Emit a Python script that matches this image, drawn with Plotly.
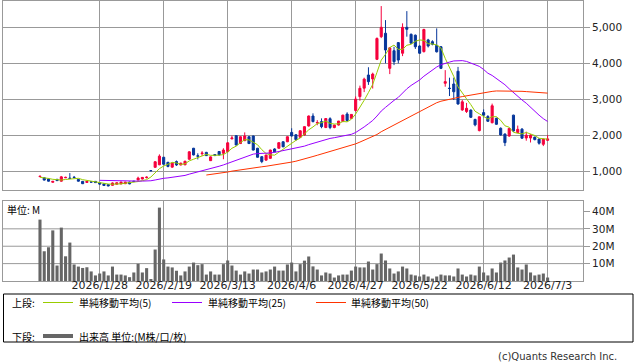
import pandas as pd
import plotly.graph_objects as go

# ---------------- data ----------------
holidays = ["2026-01-12", "2026-02-11", "2026-02-23", "2026-03-20",
            "2026-04-29", "2026-05-04", "2026-05-05", "2026-05-06"]
_days = [d for d in pd.bdate_range("2026-01-07", "2026-07-03")
         if d.strftime("%Y-%m-%d") not in holidays]
dates = [f"{d.year}/{d.month}/{d.day}" for d in _days]

tick_labels = ["2026/1/28", "2026/2/19", "2026/3/13", "2026/4/6",
               "2026/4/27", "2026/5/22", "2026/6/12", "2026/7/3"]

opens = [850, 820, 785, 695, 775, 725, 820, 810, 835, 775,
         720, 690, 705, 720, 680, 650, 630, 610, 640, 650,
         655, 700, 725, 760, 785, 825, 1020, 1110, 1180, 1390,
         1250, 1115, 1270, 1175, 1180, 1335, 1640, 1430, 1490, 1525,
         1295, 1465, 1550, 1500, 1545, 1905, 1990, 1770, 1850, 1960,
         1980, 1640, 1405, 1310, 1360, 1620, 1640, 1820, 1820, 2080,
         2015, 1945, 2010, 2260, 2535, 2345, 2380, 2215, 2460, 2215,
         2285, 2380, 2590, 2470, 2690, 3075, 3310, 3675, 3565, 4110,
         4740, 4835, 3860, 4350, 4575, 4280, 5000, 4805, 4780, 4480,
         4325, 4650, 4600, 4500, 4460, 3445, 3310, 3425, 3780, 2705,
         2660, 2700, 2440, 2130, 2630, 2520, 2350, 2470, 2195, 2035,
         1980, 2560, 2075, 2170, 1925, 1925, 1950, 1895, 1750, 1860]
highs = [880, 830, 795, 730, 790, 870, 850, 950, 870, 785,
         730, 730, 715, 730, 690, 655, 640, 690, 690, 710,
         705, 710, 735, 850, 840, 860, 1025, 1280, 1470, 1400,
         1260, 1250, 1300, 1240, 1290, 1560, 1650, 1500, 1560, 1540,
         1415, 1480, 1560, 1640, 1810, 1990, 2000, 1970, 2080, 1975,
         1990, 1650, 1420, 1460, 1600, 1640, 1800, 1830, 1970, 2195,
         2030, 2140, 2250, 2550, 2610, 2420, 2470, 2480, 2500, 2290,
         2400, 2570, 2640, 2590, 3080, 3380, 3600, 3890, 3740, 4720,
         5590, 5200, 4450, 4460, 4590, 5110, 5450, 4830, 4800, 4500,
         4960, 4680, 4640, 4970, 4480, 3810, 3600, 3600, 3900, 2980,
         2900, 2720, 2460, 2520, 2720, 2560, 2880, 2490, 2220, 2050,
         2200, 2570, 2270, 2200, 2100, 2030, 1960, 1910, 1900, 2010]
lows = [840, 745, 715, 685, 730, 715, 810, 790, 815, 715,
        645, 680, 690, 675, 630, 590, 580, 600, 630, 640,
        645, 640, 700, 740, 775, 800, 1005, 1100, 1170, 1180,
        1110, 1100, 1150, 1165, 1170, 1320, 1440, 1330, 1430, 1425,
        1285, 1420, 1440, 1335, 1530, 1880, 1720, 1760, 1840, 1760,
        1580, 1380, 1225, 1300, 1350, 1530, 1630, 1670, 1810, 1970,
        1850, 1930, 1990, 2240, 2360, 2280, 2195, 2200, 2170, 2195,
        2270, 2370, 2380, 2455, 2660, 2960, 3200, 3400, 3300, 4090,
        4700, 4000, 3700, 3950, 4000, 4200, 4740, 4540, 4400, 4260,
        4300, 4440, 4500, 4300, 3840, 3350, 3090, 2980, 2850, 2680,
        2620, 2480, 2250, 2110, 2500, 2370, 2330, 2290, 1990, 1700,
        1960, 2100, 2060, 1900, 1850, 1800, 1860, 1740, 1700, 1850]
closes = [860, 755, 725, 720, 740, 845, 830, 800, 825, 725,
          655, 720, 700, 685, 645, 605, 595, 675, 680, 700,
          700, 650, 715, 810, 830, 835, 1015, 1265, 1420, 1195,
          1135, 1225, 1175, 1225, 1280, 1540, 1455, 1420, 1505, 1435,
          1400, 1440, 1455, 1590, 1790, 1925, 1730, 1960, 1980, 1770,
          1590, 1390, 1270, 1450, 1590, 1540, 1795, 1680, 1960, 1980,
          1880, 2125, 2240, 2535, 2380, 2355, 2240, 2465, 2215, 2285,
          2395, 2560, 2410, 2580, 3005, 3305, 3560, 3490, 3700, 4690,
          5000, 4370, 4430, 4045, 4090, 5000, 4945, 4560, 4460, 4280,
          4940, 4480, 4530, 4320, 3860, 3490, 3300, 3210, 2870, 2930,
          2750, 2500, 2290, 2515, 2560, 2390, 2820, 2305, 2010, 1795,
          2190, 2120, 2165, 1920, 2000, 2005, 1880, 1780, 1895, 1900]
# closes of the 10 sessions before the visible window (feed the moving averages)
pre_closes = [720, 690, 700, 680, 710, 690, 810, 830, 840, 825]

volume_m = [35.3, 17.1, 19.4, 29.1, 8.9, 30.7, 14.2, 22.1, 9.5, 8.3,
            7.5, 7.9, 5.5, 3.2, 4.3, 5.5, 3.2, 8.3, 3.7, 3.7,
            3.2, 2.2, 4.9, 9.9, 4.9, 7.4, 0.7, 18.1, 42.2, 12.4,
            8.3, 7.8, 5.9, 3.2, 5.5, 8.3, 10.6, 9.1, 9.7, 3.7,
            5.5, 3.7, 3.7, 9.7, 11.8, 8.9, 6.0, 3.7, 5.5, 4.3,
            6.6, 6.6, 4.9, 5.5, 6.6, 8.3, 6.0, 6.0, 9.5, 10.6,
            5.5, 9.7, 11.7, 14.1, 8.4, 6.6, 3.2, 4.9, 4.3, 2.0,
            3.2, 3.7, 3.7, 6.0, 8.3, 7.8, 7.8, 11.2, 6.6, 9.7,
            15.8, 11.8, 7.2, 4.3, 5.5, 8.3, 7.2, 3.7, 3.2, 2.6,
            3.7, 2.6, 1.4, 2.6, 3.7, 3.2, 3.2, 2.6, 7.2, 3.7,
            2.6, 3.7, 3.2, 8.3, 4.9, 3.2, 7.2, 4.9, 10.6, 11.8,
            13.5, 15.2, 7.8, 6.6, 9.5, 4.9, 3.2, 3.7, 4.3, 2.0]

price_ticks = [1000, 2000, 3000, 4000, 5000]
vol_ticks = [10, 20, 30, 40]
vol_tick_text = ["10M", "20M", "30M", "40M"]
vol_grid = [10, 20, 30]

legend_top = ["単純移動平均(5)", "単純移動平均(25)", "単純移動平均(50)"]
legend_bottom = "出来高 単位:(M株/口/枚)"

# ---------------- styles ----------------
UP = "#f5003c"
DOWN = "#06369a"
MA_COLORS = ["#99cc00", "#9900ff", "#ff3300"]
VOL_COLOR = "#666666"
GRID = "#999999"
FONT = "DejaVu Sans"
JP = "Noto Sans CJK JP"

assert len(dates) == len(closes) == len(volume_m)

full = pd.Series(pre_closes + closes, dtype=float)
n_pre = len(pre_closes)
ma = {w: full.rolling(w).mean().iloc[n_pre:].tolist() for w in (5, 25, 50)}

fig = go.Figure()
fig.add_trace(go.Candlestick(
    x=dates, open=opens, high=highs, low=lows, close=closes,
    increasing=dict(line=dict(color=UP, width=1), fillcolor=UP),
    decreasing=dict(line=dict(color=DOWN, width=1), fillcolor=DOWN),
    whiskerwidth=0, xaxis="x", yaxis="y", showlegend=False, hoverinfo="skip"))
for w, c in zip((5, 25, 50), MA_COLORS):
    fig.add_trace(go.Scatter(x=dates, y=ma[w], mode="lines",
                             line=dict(color=c, width=1),
                             xaxis="x", yaxis="y", showlegend=False,
                             hoverinfo="skip"))
fig.add_trace(go.Bar(x=dates, y=volume_m, marker=dict(color=VOL_COLOR, line=dict(width=0)),
                     width=0.72, xaxis="x2", yaxis="y2", showlegend=False,
                     hoverinfo="skip"))

# plot area in pixels: x 3..583, y 1..281
L, R, T, B = 3, 583, 1, 281
W, H = 638, 362


def px(x):
    return (x - L) / (R - L)


def py(y):
    return (B - y) / (B - T)


xr = [-8.67, 127.3]
common_x = dict(type="category", range=xr, tickvals=tick_labels, ticktext=tick_labels,
                showgrid=True, gridcolor=GRID, gridwidth=1, showline=True, mirror=True,
                linecolor=GRID, linewidth=1, ticks="", zeroline=False,
                rangeslider=dict(visible=False), fixedrange=True)

fig.update_layout(
    width=W, height=H,
    margin=dict(l=L, r=W - R, t=T, b=H - B),
    paper_bgcolor="white", plot_bgcolor="white",
    bargap=0.28,
    xaxis=dict(**common_x, domain=[0, 1], anchor="y", showticklabels=False),
    xaxis2=dict(**common_x, domain=[0, 1], anchor="y2", showticklabels=True,
                ticklabelstandoff=-6,
                tickfont=dict(family=FONT, size=11, color="#222222")),
    yaxis=dict(domain=[py(190), 1], range=[480, 5731], side="right",
               tickvals=price_ticks, tickformat=",", ticks="outside", ticklen=6,
               tickcolor=GRID, showgrid=True, gridcolor=GRID, gridwidth=1,
               showline=True, mirror=True, linecolor=GRID, linewidth=1,
               zeroline=False, tickfont=dict(family=FONT, size=10.5, color="#222222"),
               fixedrange=True),
    yaxis2=dict(domain=[0, py(201)], range=[0, 46], side="right",
                tickvals=vol_ticks, ticktext=vol_tick_text, ticks="outside", ticklen=6,
                tickcolor=GRID, showgrid=False, showline=True, mirror=True,
                linecolor=GRID, linewidth=1, zeroline=False,
                tickfont=dict(family=FONT, size=10.5, color="#222222"),
                fixedrange=True),
)

shapes = []
for v in vol_grid:
    shapes.append(dict(type="line", xref="x2 domain", yref="y2", x0=0, x1=1, y0=v, y1=v,
                       line=dict(color=GRID, width=1), layer="below"))
# legend box
shapes.append(dict(type="rect", xref="paper", yref="paper",
                   x0=px(3.5), x1=px(633), y0=py(294), y1=py(342),
                   line=dict(color="black", width=1)))
leg_lines = [(43, 73, MA_COLORS[0]), (172, 202, MA_COLORS[1]), (316, 346, MA_COLORS[2])]
for x0, x1, c in leg_lines:
    shapes.append(dict(type="line", xref="paper", yref="paper", x0=px(x0), x1=px(x1),
                       y0=py(302.5), y1=py(302.5), line=dict(color=c, width=1)))
shapes.append(dict(type="line", xref="paper", yref="paper", x0=px(43), x1=px(73),
                   y0=py(336), y1=py(336), line=dict(color="#666666", width=4)))
fig.update_layout(shapes=shapes)

ann = []


def text(x, y, s, size=10, anchor="left", color="black", family=JP):
    ann.append(dict(x=px(x), y=py(y), xref="paper", yref="paper", text=s,
                    showarrow=False, xanchor=anchor, yanchor="middle",
                    font=dict(family=family, size=size, color=color)))


text(5, 209, "単位: M", size=10)
text(10, 302, "上段:", size=10)
text(77, 302, legend_top[0], size=10)
text(206, 302, legend_top[1], size=10)
text(349, 302, legend_top[2], size=10)
text(10, 336, "下段:", size=10)
text(77, 336, legend_bottom, size=10)
text(619, 356, "(c)Quants Research Inc.", size=10, anchor="right", color="#333333",
     family=FONT)
fig.update_layout(annotations=ann)

fig.write_html("out.html")
